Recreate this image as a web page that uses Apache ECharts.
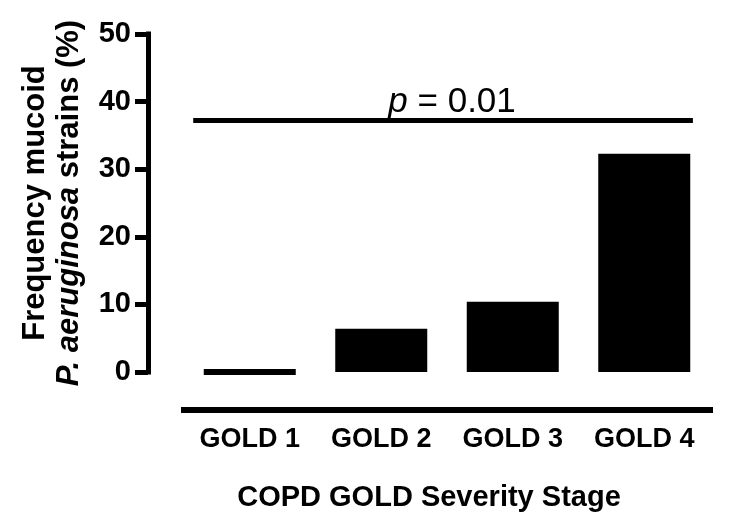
<!DOCTYPE html>
<html>
<head>
<meta charset="utf-8">
<script src="https://cdn.jsdelivr.net/npm/echarts@6/dist/echarts.min.js"></script>
<style>html,body{margin:0;padding:0;background:#fff;}#c{width:740px;height:530px;}</style>
</head>
<body>
<div id="c"></div>
<script>
const categories = ['GOLD 1', 'GOLD 2', 'GOLD 3', 'GOLD 4'];
const values = [0, 6.4, 10.4, 32.3];
const yMin = 0, yMax = 50, yInterval = 10;
const sigY = 37.2;
const sigFrom = 0.07, sigTo = 3.87;
const sigText = '{i|p} = 0.01';
const xName = 'COPD GOLD Severity Stage';
const yNameLine1 = 'Frequency mucoid';
const yNameItalic = 'P. aeruginosa';
const yNameRest = ' strains (%)';

const FF = '"Liberation Sans", Arial, Helvetica, sans-serif';
const chart = echarts.init(document.getElementById('c'), null, {renderer: 'canvas'});
chart.setOption({
  animation: false,
  backgroundColor: '#fff',
  grid: {left: 184, right: 30, top: 34, bottom: 158},
  xAxis: [{
    type: 'category',
    data: categories,
    offset: 38,
    axisLine: {onZero: false, lineStyle: {color: '#000', width: 6, cap: 'square'}},
    axisTick: {show: false},
    axisLabel: {color: '#000', fontFamily: FF, fontWeight: 'bold', fontSize: 27, margin: 16},
    name: xName,
    nameLocation: 'middle',
    nameGap: 73,
    nameTextStyle: {color: '#000', fontFamily: FF, fontWeight: 'bold', fontSize: 29, padding: [0, 36, 0, 0]}
  }, {
    type: 'value', min: 0, max: 4, show: false
  }],
  yAxis: {
    type: 'value',
    min: yMin, max: yMax, interval: yInterval,
    offset: 36,
    splitLine: {show: false},
    axisLine: {show: true, onZero: false, lineStyle: {color: '#000', width: 5, cap: 'square'}},
    axisTick: {show: true, length: 13, lineStyle: {color: '#000', width: 5}},
    axisLabel: {color: '#000', fontFamily: FF, fontWeight: 'bold', fontSize: 29, margin: 17},
    name: '{b|' + yNameLine1 + '}\n{i|' + yNameItalic + '}{b|' + yNameRest + '}',
    nameLocation: 'middle',
    nameGap: 62,
    nameRotate: 90,
    nameTextStyle: {
      color: '#000',
      rich: {
        b: {fontFamily: FF, fontWeight: 'bold', fontSize: 31, lineHeight: 34, color: '#000'},
        i: {fontFamily: FF, fontWeight: 'bold', fontStyle: 'italic', fontSize: 31, lineHeight: 34, color: '#000'}
      }
    }
  },
  series: [{
    type: 'bar',
    data: values,
    barWidth: 92,
    itemStyle: {color: '#000', borderColor: '#000', borderWidth: 6},
    silent: true
  }, {
    type: 'scatter',
    xAxisIndex: 1,
    data: [[sigFrom, sigY], [sigTo, sigY]],
    symbolSize: 0,
    silent: true,
    markLine: {
      symbol: ['none', 'none'],
      silent: true,
      lineStyle: {color: '#000', width: 5, type: 'solid'},
      label: {
        show: true,
        position: 'middle',
        formatter: sigText,
        color: '#000',
        fontFamily: FF,
        fontSize: 35,
        distance: 1,
        padding: [0, 0, 0, 18],
        rich: {i: {fontFamily: FF, fontStyle: 'italic', fontSize: 35, color: '#000'}}
      },
      data: [[{coord: [sigFrom, sigY]}, {coord: [sigTo, sigY]}]]
    }
  }]
});
</script>
</body>
</html>
